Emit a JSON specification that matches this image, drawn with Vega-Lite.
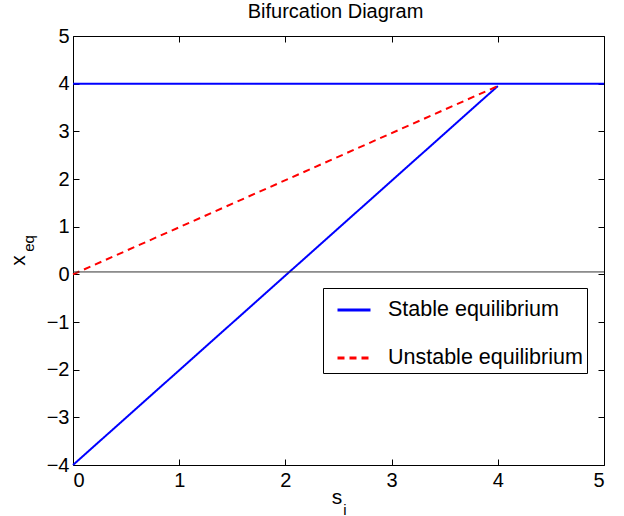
{
  "$schema": "https://vega.github.io/schema/vega-lite/v6.json",
  "width": 531,
  "height": 429,
  "autosize": {"type": "none"},
  "padding": {"left": 73, "top": 36, "right": 20, "bottom": 51},
  "background": "white",
  "title": {"text": "Bifurcation Diagram", "fontSize": 20, "fontWeight": "normal", "font": "Liberation Sans", "color": "black", "baseline": "bottom", "offset": 13, "dy": 29, "dx": -3},
  "config": {
    "view": {"stroke": "black", "strokeWidth": 1},
    "axis": {"grid": false, "domain": false, "tickColor": "black", "tickSize": -6, "tickWidth": 1, "labelFont": "Liberation Sans", "labelFontSize": 20, "labelColor": "black", "titleFont": "Liberation Sans", "titleColor": "black", "titleFontWeight": "normal"}
  },
  "resolve": {"axis": {"x": "independent", "y": "independent"}},
  "layer": [
    {
      "data": {"values": [
        {"si": 0, "xeq": 4, "series": "Stable equilibrium", "seg": "h"},
        {"si": 5, "xeq": 4, "series": "Stable equilibrium", "seg": "h"},
        {"si": 0, "xeq": -4, "series": "Stable equilibrium", "seg": "d"},
        {"si": 4, "xeq": 3.95, "series": "Stable equilibrium", "seg": "d"},
        {"si": 0, "xeq": 0, "series": "Unstable equilibrium", "seg": "u"},
        {"si": 4, "xeq": 3.95, "series": "Unstable equilibrium", "seg": "u"}
      ]},
      "mark": {"type": "line", "strokeWidth": 2, "clip": false},
      "encoding": {
        "x": {"field": "si", "type": "quantitative", "scale": {"domain": [0, 5], "nice": false, "zero": false},
          "axis": {"orient": "bottom", "values": [0, 1, 2, 3, 4, 5], "labelPadding": 11, "title": "s", "titleFontSize": 21, "titleX": 263.5, "titleY": 38, "titleBaseline": "alphabetic", "titleAlign": "center"}},
        "y": {"field": "xeq", "type": "quantitative", "scale": {"domain": [-4, 5], "nice": false, "zero": false},
          "axis": {"orient": "left", "values": [-4, -3, -2, -1, 0, 1, 2, 3, 4, 5], "labelPadding": 10, "title": "x", "titleFontSize": 21, "titleX": -49, "titleY": 224, "titleAngle": -90, "titleBaseline": "alphabetic", "titleAlign": "center"}},
        "color": {"field": "series", "type": "nominal",
          "scale": {"domain": ["Stable equilibrium", "Unstable equilibrium"], "range": ["#0000ff", "#ff0000"]},
          "legend": {"orient": "none", "legendX": 250, "legendY": 252, "title": null, "strokeColor": "black", "fillColor": "white", "padding": 4, "symbolType": "stroke", "symbolSize": 1089, "symbolStrokeWidth": 3, "symbolOffset": 9, "labelOffset": 16, "labelFontSize": 21.5, "labelFont": "Liberation Sans", "labelColor": "black", "rowPadding": 19, "labelLimit": 400, "cornerRadius": 0}},
        "strokeDash": {"field": "series", "type": "nominal",
          "scale": {"domain": ["Stable equilibrium", "Unstable equilibrium"], "range": [[1, 0], [7, 5]]},
          "legend": {"orient": "none", "legendX": 250, "legendY": 252, "title": null, "strokeColor": "black", "fillColor": "white", "padding": 4, "symbolType": "stroke", "symbolSize": 1089, "symbolStrokeWidth": 3, "symbolOffset": 9, "labelOffset": 16, "labelFontSize": 21.5, "labelFont": "Liberation Sans", "labelColor": "black", "rowPadding": 19, "labelLimit": 400, "cornerRadius": 0}},
        "detail": {"field": "seg"}
      }
    },
    {
      "data": {"values": [{"x0": 0, "x1": 5, "y": 0.05}]},
      "mark": {"type": "rule", "color": "#333333", "strokeWidth": 1},
      "encoding": {
        "x": {"field": "x0", "type": "quantitative", "scale": {"domain": [0, 5], "nice": false, "zero": false},
          "axis": {"orient": "top", "values": [0, 1, 2, 3, 4, 5], "labels": false, "title": "i", "titleFontSize": 15, "titleX": 271.5, "titleY": 478, "titleBaseline": "alphabetic", "titleAlign": "center"}},
        "x2": {"field": "x1"},
        "y": {"field": "y", "type": "quantitative", "scale": {"domain": [-4, 5], "nice": false, "zero": false},
          "axis": {"orient": "right", "values": [-4, -3, -2, -1, 0, 1, 2, 3, 4, 5], "labels": false, "title": "eq", "titleFontSize": 15, "titleX": -571, "titleY": 207, "titleAngle": -90, "titleBaseline": "alphabetic", "titleAlign": "center"}}
      }
    }
  ]
}
